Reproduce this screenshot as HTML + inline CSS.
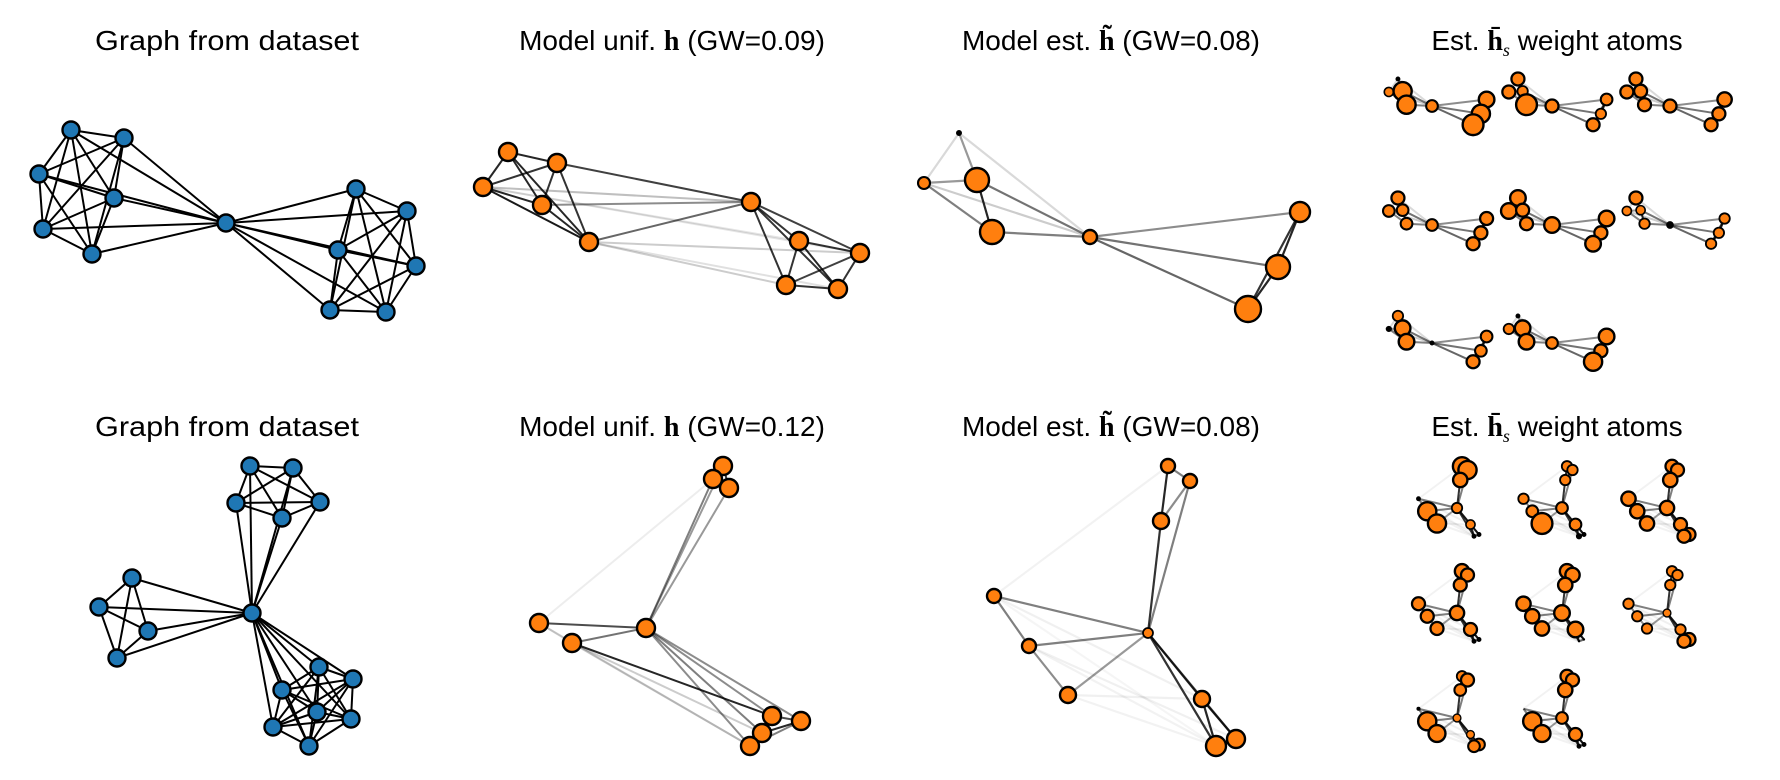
<!DOCTYPE html>
<html><head><meta charset="utf-8">
<style>
html,body{margin:0;padding:0;background:#fff;}
svg{display:block;}
text{font-family:"Liberation Sans",sans-serif;fill:#000;}
</style></head>
<body>
<svg id="fig" width="1780" height="780" viewBox="0 0 1780 780" xmlns="http://www.w3.org/2000/svg">
  <g font-size="28">
    <text x="227" y="50" text-anchor="middle" textLength="264" lengthAdjust="spacingAndGlyphs">Graph from dataset</text>
    <text x="672" y="50" text-anchor="middle">Model unif. <tspan font-family="Liberation Serif" font-weight="bold">h</tspan> (GW=0.09)</text>
    <text x="1111" y="50" text-anchor="middle">Model est. <tspan font-family="Liberation Serif" font-weight="bold">h̃</tspan> (GW=0.08)</text>
    <text x="1557" y="50" text-anchor="middle">Est. <tspan font-family="Liberation Serif" font-weight="bold">h̄</tspan><tspan font-family="Liberation Serif" font-style="italic" font-size="18" dy="6">s</tspan><tspan dy="-6"> weight atoms</tspan></text>
    <text x="227" y="436" text-anchor="middle" textLength="264" lengthAdjust="spacingAndGlyphs">Graph from dataset</text>
    <text x="672" y="436" text-anchor="middle">Model unif. <tspan font-family="Liberation Serif" font-weight="bold">h</tspan> (GW=0.12)</text>
    <text x="1111" y="436" text-anchor="middle">Model est. <tspan font-family="Liberation Serif" font-weight="bold">h̃</tspan> (GW=0.08)</text>
    <text x="1557" y="436" text-anchor="middle">Est. <tspan font-family="Liberation Serif" font-weight="bold">h̄</tspan><tspan font-family="Liberation Serif" font-style="italic" font-size="18" dy="6">s</tspan><tspan dy="-6"> weight atoms</tspan></text>
  </g>
  <g id="graphs"></g>
</svg>
<script>
// ---- data: node positions [x,y] and radii, edge lists [i,j,opacity] ----
const blueTopNodes=[[71,130],[124,138],[39,174],[114,198],[43,229],[92,254],[226,223],[356,189],[407,211],[338,250],[416,266],[330,310],[386,312]];
const blueBotNodes=[[250,466],[293,468],[236,503],[282,518],[320,502],[252,613],[132,578],[99,607],[148,631],[117,658],[319,667],[353,679],[282,690],[317,712],[351,719],[273,727],[309,746]];

const unifTopNodes=[[508,152],[557,163],[483,187],[542,205],[589,242],[751,202],[799,241],[860,253],[786,285],[838,289]];
const unifTopEdges=[[0,1,.85],[0,2,.85],[0,3,.85],[0,4,.85],[1,2,.8],[1,3,.8],[1,4,.8],[2,3,.85],[2,4,.9],[3,4,.85],
 [1,5,.75],[2,5,.25],[3,5,.45],[4,5,.6],[5,6,.8],[5,7,.75],[5,8,.8],[5,9,.8],[6,7,.8],[6,8,.8],[6,9,.85],[7,8,.75],[7,9,.8],[8,9,.8],
 [4,7,.2],[4,8,.2],[4,9,.12],[2,7,.1],[2,6,.1]];

const estTopNodes=[[959,133],[924,183],[977,180],[992,232],[1090,237],[1300,212],[1278,267],[1248,309]];
const estTopRadii=[2.5,6,12,12,7,10,12,13];
const estTopEdges=[[0,1,.15],[0,2,.4],[0,4,.15],[1,2,.4],[1,3,.5],[1,4,.2],[2,3,.85],[2,4,.55],[3,4,.5],[4,5,.45],[4,6,.55],[4,7,.6],[5,6,.85],[6,7,.85],[5,7,.8]];

const unifBotNodes=[[723,466],[713,479],[729,488],[539,623],[572,643],[646,628],[772,716],[801,721],[762,733],[750,746]];
const unifBotEdges=[[0,1,.8],[1,2,.8],[0,2,.8],[5,0,.4],[5,1,.5],[5,2,.4],[3,1,.07],[3,5,.7],[4,5,.55],[3,4,.15],[4,6,.85],[4,8,.2],[4,9,.2],[3,9,.12],
 [5,6,.45],[5,7,.45],[5,8,.5],[5,9,.45],[6,7,.7],[6,8,.8],[7,8,.85],[8,9,.7],[6,9,.5],[7,9,.5]];

const estBotNodes=[[1168,466],[1190,481],[1161,521],[994,596],[1029,646],[1068,695],[1148,633],[1202,699],[1236,739],[1216,746]];
const estBotRadii=[7,7,8,7,7,8,5,8,9,10];
const estBotEdges=[[0,1,.5],[0,2,.85],[1,2,.45],[2,6,.8],[1,6,.5],[3,6,.5],[4,6,.5],[5,6,.4],[3,4,.5],[4,5,.45],[6,7,.8],[6,9,.8],[7,8,.85],[7,9,.85],[8,9,.6],[6,8,.6],
 [3,0,.05],[3,7,.06],[4,8,.06],[5,7,.06],[5,9,.05],[4,9,.05],[3,9,.04]];

// atoms: hub centres and node radii per atom
const atomTopHubs=[[1432,106],[1552,106],[1670,106],[1432,225],[1552,225],[1670,225],[1432,343],[1552,343]];
const atomTopRadii=[[1.5,3.5,7,7,4.5,6,7,8],[5,5,4,8,5,4.5,4,5],[5,5,5,5,5,5.5,5,5],[5,4.5,4.5,4.5,4.5,5,5,5],
 [6,6,5,5,6,6,5,6],[5,3.5,3.5,4,2.5,4,4,4],[4,2,6,6,1.5,4.5,4.5,5],[1.5,4,6,6,4.5,6,5,7]];
const atomBotHubs=[[1457,508],[1562,508],[1667,508],[1457,613],[1562,613],[1667,613],[1457,718],[1562,718]];
const atomBotRadii=[[7,7,5.5,1.5,7,7,4,3.5,1.5,1.5],[4,4,4,4,4.5,8,4.5,4.5,1.5,2],[5,5,5.5,5.5,5.5,5.5,5.5,5,5,5],
 [5.5,5,5,5,5,5,5.5,5,1.5,1.5],[5.5,5.5,5.5,5.5,5.5,5.5,6,6,.5,.5],[4,4,4,4,4,4,3,4,5,5],[4,5,4.5,1.2,7,6.5,3,3,4.5,4.5],[5,5,5.5,.1,7,6.5,4.5,5,1.5,1.5]];

// ---- drawing ----
const NS='http://www.w3.org/2000/svg';
const root=document.getElementById('graphs');
function clique(ids,a){const e=[];for(let i=0;i<ids.length;i++)for(let j=i+1;j<ids.length;j++)e.push([ids[i],ids[j],a]);return e;}
function drawGraph(name,nodes,radii,edges,fill,sw,rs){
  rs=rs||1;
  const g=document.createElementNS(NS,'g');
  
  
  root.appendChild(g);
  edges.forEach(([i,j,a])=>{
    const l=document.createElementNS(NS,'line');
    
    
    l.setAttribute('x1',nodes[i][0]);l.setAttribute('y1',nodes[i][1]);
    l.setAttribute('x2',nodes[j][0]);l.setAttribute('y2',nodes[j][1]);
    l.setAttribute('stroke','#000');l.setAttribute('stroke-opacity',a);
    l.setAttribute('stroke-width',sw);
    g.appendChild(l);
  });
  nodes.forEach((p,k)=>{
    const r=radii[k]*rs;
    if(r<=0.3)return;
    const c=document.createElementNS(NS,'circle');
    
    
    c.setAttribute('cx',p[0]);c.setAttribute('cy',p[1]);c.setAttribute('r',r);
    c.setAttribute('fill',radii[k]<3?'#000':fill);c.setAttribute('stroke','#000');
    c.setAttribute('stroke-width',Math.min(2.4,Math.max(1,r*0.35)));
    g.appendChild(c);
  });
}
const BLUE='#1f77b4',ORANGE='#ff7f0e';
// top blue
let be=clique([0,1,2,3,4,5],1).concat(clique([7,8,9,10,11,12],1));
[0,1,2,3,4,5,7,8,9,10,11,12].forEach(k=>be.push([6,k,1]));
drawGraph('graph-dataset-top',blueTopNodes,blueTopNodes.map(()=>8.5),be,BLUE,2);
// bottom blue
let bb=clique([0,1,2,3,4],1).concat(clique([6,7,8,9],1)).concat(clique([10,11,12,13,14,15,16],1));
[0,1,2,3,4,6,7,8,9,10,11,12,13,14,15,16].forEach(k=>bb.push([5,k,1]));
drawGraph('graph-dataset-bottom',blueBotNodes,blueBotNodes.map(()=>8.5),bb,BLUE,2);
drawGraph('model-unif-top',unifTopNodes,unifTopNodes.map(()=>9),unifTopEdges,ORANGE,2);
drawGraph('model-est-top',estTopNodes,estTopRadii,estTopEdges,ORANGE,2.2);
drawGraph('model-unif-bottom',unifBotNodes,unifBotNodes.map(()=>9),unifBotEdges,ORANGE,2);
drawGraph('model-est-bottom',estBotNodes,estBotRadii,estBotEdges,ORANGE,2.2);
// atoms
function atomNodes(base,hubIdx,hub,s){return base.map(p=>[hub[0]+(p[0]-base[hubIdx][0])*s,hub[1]+(p[1]-base[hubIdx][1])*s]);}
atomTopHubs.forEach((h,k)=>drawGraph('weight-atom-top-'+(k+1),atomNodes(estTopNodes,4,h,0.26),atomTopRadii[k],estTopEdges,ORANGE,2,1.3));
atomBotHubs.forEach((h,k)=>drawGraph('weight-atom-bottom-'+(k+1),atomNodes(estBotNodes,6,h,0.25),atomBotRadii[k],estBotEdges,ORANGE,2,1.3));
</script>
</body></html>
